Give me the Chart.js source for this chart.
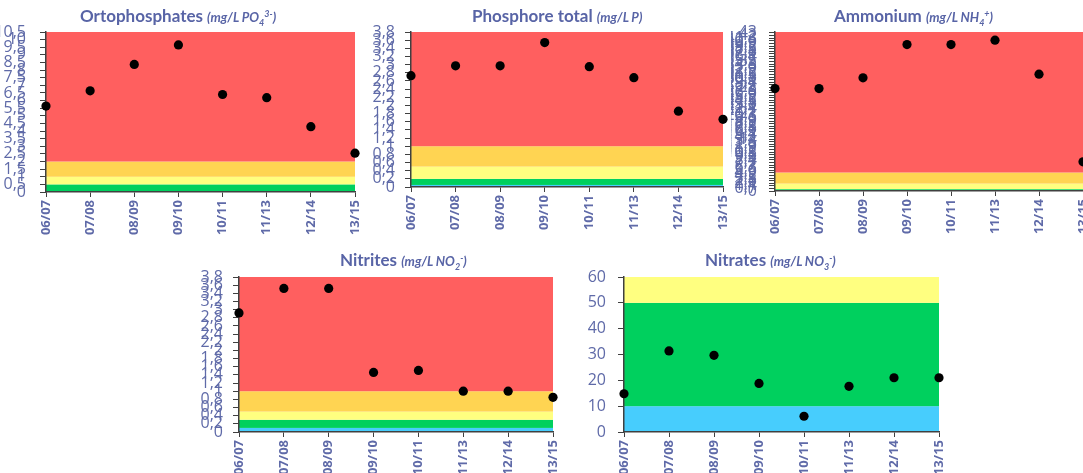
<!DOCTYPE html>
<html lang="fr">
<head>
<meta charset="UTF-8">
<title>Qualité de l'eau</title>
<script src="https://cdn.jsdelivr.net/npm/chart.js"></script>
<style>
  html, body { margin: 0; padding: 0; background: #fff; overflow: hidden; width: 1083px; height: 473px; position: relative; }
  canvas { position: absolute; }
  .title { position: absolute; font-family: Lato, sans-serif; color: #5864a6; white-space: nowrap; line-height: 20px; z-index: 2; }
  .title b { font-size: 17px; }
  .title i { font-size: 13px; font-weight: bold; }
  .title sub, .title sup { font-size: 9px; line-height: 0; }
</style>
</head>
<body>

<div class="title" style="left:80px;top:6px"><b>Ortophosphates</b> <i>(mg/L PO<sub>4</sub><sup>3-</sup>)</i></div>
<div class="title" style="left:472px;top:6px"><b>Phosphore total</b> <i>(mg/L P)</i></div>
<div class="title" style="left:834px;top:6px"><b>Ammonium</b> <i>(mg/L NH<sub>4</sub><sup>+</sup>)</i></div>
<div class="title" style="left:340px;top:250px"><b>Nitrites</b> <i>(mg/L NO<sub>2</sub><sup>-</sup>)</i></div>
<div class="title" style="left:705px;top:250px"><b>Nitrates</b> <i>(mg/L NO<sub>3</sub><sup>-</sup>)</i></div>

<script>
// campaigns
const categories = ['06/07', '07/08', '08/09', '09/10', '10/11', '11/13', '12/14', '13/15'];

// measured values
const ortho    = [5.64, 6.64, 8.37, 9.65, 6.4, 6.19, 4.29, 2.55];
const phosTot  = [2.73, 2.97, 2.97, 3.54, 2.95, 2.68, 1.86, 1.66];
const ammonium = [27.7, 27.7, 30.6, 39.6, 39.6, 40.8, 31.6, 7.9];
const nitrites = [2.92, 3.52, 3.52, 1.46, 1.51, 1.0, 1.0, 0.85];
const nitrates = [14.8, 31.4, 29.7, 18.8, 6.1, 17.7, 21.0, 21.0];

// y axes: [min, max, step]
const orthoAxis = [0, 10.5, 0.5];
const phosAxis  = [0, 3.8, 0.2];
const ammoAxis  = [0, 43, 0.7];
const nitriAxis = [0, 3.8, 0.2];
const nitraAxis = [0, 60, 10];

// quality class limits (band edges) and their classes
const orthoLimits = [0, 0.5, 1, 2, 10.5];
const orthoClasses = ['good', 'fair', 'poor', 'bad'];
const phosLimits = [0, 0.05, 0.2, 0.5, 1, 3.8];
const phosClasses = ['veryGood', 'good', 'fair', 'poor', 'bad'];
const ammoLimits = [0, 0.5, 2, 5, 43];
const ammoClasses = ['good', 'fair', 'poor', 'bad'];
const nitriLimits = [0, 0.1, 0.3, 0.5, 1, 3.8];
const nitriClasses = ['veryGood', 'good', 'fair', 'poor', 'bad'];
const nitraLimits = [0, 10, 50, 60];
const nitraClasses = ['veryGood', 'good', 'fair'];

const classColors = {
  veryGood: '#47cdfd',
  good: '#00d05e',
  fair: '#ffff80',
  poor: '#ffd452',
  bad: '#ff5f5f'
};

const labelColor = '#5f6aa8';
const axisColor = '#404040';

// fills the quality classes behind the points
const bandsPlugin = {
  id: 'bands',
  beforeDraw(chart, args, opts) {
    const { ctx, chartArea, scales: { y } } = chart;
    ctx.save();
    for (let i = 0; i < opts.classes.length; i++) {
      const top = y.getPixelForValue(opts.limits[i + 1]);
      const bot = y.getPixelForValue(opts.limits[i]);
      ctx.fillStyle = classColors[opts.classes[i]];
      ctx.fillRect(chartArea.left, top, chartArea.right - chartArea.left, bot - top);
    }
    ctx.restore();
  }
};

function fmt(v) {
  return String(Number(v.toFixed(2))).replace('.', ',');
}

// box = [left, top, right, bottom] of the plot area on the page
function makePanel(box, values, axis, limits, classes, yW, labelPad) {
  const padTop = 14, padRight = 12, xH = 50;
  const canvas = document.createElement('canvas');
  const w = box[2] - box[0] + yW + padRight;
  const h = box[3] - box[1] + padTop + xH;
  canvas.width = w;
  canvas.height = h;
  canvas.style.left = (box[0] - yW) + 'px';
  canvas.style.top = (box[1] - padTop) + 'px';
  canvas.style.width = w + 'px';
  canvas.style.height = h + 'px';
  document.body.appendChild(canvas);

  new Chart(canvas, {
    type: 'line',
    data: {
      labels: categories,
      datasets: [{
        data: values,
        showLine: false,
        pointRadius: 4.6,
        pointHoverRadius: 4.6,
        pointBackgroundColor: '#000',
        pointBorderWidth: 0,
        clip: false
      }]
    },
    plugins: [bandsPlugin],
    options: {
      responsive: false,
      animation: false,
      events: [],
      layout: { padding: { top: padTop, right: padRight, left: 0, bottom: 0 } },
      plugins: {
        legend: { display: false },
        tooltip: { enabled: false },
        bands: { limits: limits, classes: classes }
      },
      scales: {
        x: {
          offset: false,
          border: { color: axisColor, width: 1.5 },
          grid: { drawOnChartArea: false, tickLength: 5, color: axisColor },
          ticks: {
            autoSkip: false, maxRotation: 90, minRotation: 90, padding: 3,
            color: labelColor,
            font: { family: 'Open Sans', size: 13, weight: 'bold' }
          },
          afterFit(s) { s.height = xH; s.paddingLeft = 0; s.paddingRight = 0; }
        },
        y: {
          min: axis[0], max: axis[1],
          border: { color: axisColor, width: 1.5 },
          grid: { drawOnChartArea: false, tickLength: 6, color: axisColor },
          ticks: {
            stepSize: axis[2], autoSkip: false, padding: labelPad,
            color: labelColor,
            font: { family: 'Open Sans', size: 16 },
            callback: v => fmt(v)
          },
          afterFit(s) { s.width = yW; s.paddingTop = 0; s.paddingBottom = 0; }
        }
      }
    }
  });
}

makePanel([46, 32, 355, 192], ortho, orthoAxis, orthoLimits, orthoClasses, 46, 14);
makePanel([411, 32, 723, 187], phosTot, phosAxis, phosLimits, phosClasses, 46, 10);
makePanel([775, 32, 1083, 191], ammonium, ammoAxis, ammoLimits, ammoClasses, 44, 12);
makePanel([239, 277, 553, 432], nitrites, nitriAxis, nitriLimits, nitriClasses, 46, 10);
makePanel([624, 277, 939, 432], nitrates, nitraAxis, nitraLimits, nitraClasses, 46, 12);
</script>
</body>
</html>
